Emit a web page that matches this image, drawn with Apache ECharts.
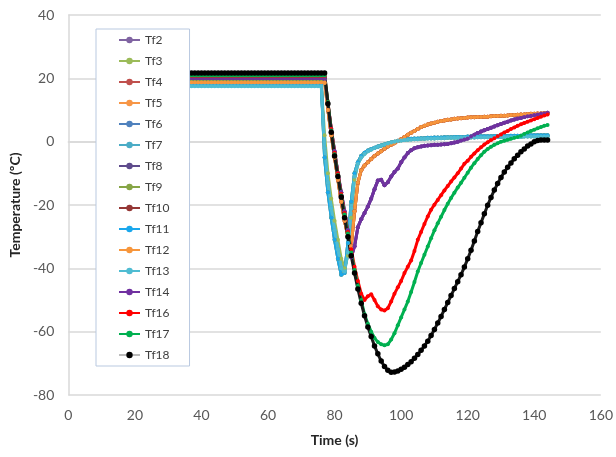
<!DOCTYPE html>
<html>
<head>
<meta charset="utf-8">
<script src="https://cdn.jsdelivr.net/npm/echarts@6/dist/echarts.min.js"></script>
<style>
html, body { margin: 0; padding: 0; background: #fff; }
#chart { width: 616px; height: 457px; }
</style>
</head>
<body>
<div id="chart"></div>
<script>
// sample times (s)
const time = [
  36,37,38,39,40,41,42,43,44,45,46,47,48,49,50,51,52,53,54,55,
  56,57,58,59,60,61,62,63,64,65,66,67,68,69,70,71,72,73,74,75,76,
  77,78,79,80,81,82,83,84,85,86,87,88,89,90,91,92,93,94,95,96,
  97,98,99,100,101,102,103,104,105,106,107,108,109,110,111,112,113,114,115,116,
  117,118,119,120,121,122,123,124,125,126,127,128,129,130,131,132,133,134,135,136,
  137,138,139,140,141,142,143,144
];

// temperatures (ºC), one value per sample time
const tf2 = [
  19.7,19.7,19.7,19.7,19.7,19.7,19.7,19.7,19.7,19.7,19.7,19.7,19.7,19.7,19.7,19.7,19.7,19.7,19.7,19.7,
  19.7,19.7,19.7,19.7,19.7,19.7,19.7,19.7,19.7,19.7,19.7,19.7,19.7,19.7,19.7,19.7,19.7,19.7,19.7,19.7,19.7,
  19.7,12,4,-3,-10,-16,-22,-28,-36.5,-33,-27,-24.5,-22.5,-20.5,-18,-15,-12.3,-12,-13.8,-12.8,
  -11,-9.6,-8.5,-6.5,-5,-3.6,-2.7,-2.1,-1.8,-1.5,-1.3,-1.2,-1.1,-1,-1,-0.9,-0.8,-0.7,-0.5,-0.3,
  0,0.4,0.7,1,1.6,2.2,2.7,3.2,3.6,4,4.4,4.8,5.2,5.6,6,6.3,6.7,7,7.3,7.5,
  7.8,8,8.2,8.4,8.6,8.8,8.9,9.1
];
const tf3 = [
  18.5,18.5,18.5,18.5,18.5,18.5,18.5,18.5,18.5,18.5,18.5,18.5,18.5,18.5,18.5,18.5,18.5,18.5,18.5,18.5,
  18.5,18.5,18.5,18.5,18.5,18.5,18.5,18.5,18.5,18.5,18.5,18.5,18.5,18.5,18.5,18.5,18.5,18.5,18.5,18.5,18.5,
  2,-10,-18,-25,-31,-37,-40,-36,-24,-12,-7,-5,-3.8,-3,-2.5,-2,-1.6,-1.2,-0.9,-0.6,
  -0.3,0,0.2,0.4,0.5,0.6,0.7,0.8,0.8,0.9,0.9,1,1,1,1.1,1.1,1.1,1.2,1.2,1.2,
  1.2,1.3,1.3,1.3,1.3,1.3,1.4,1.4,1.4,1.4,1.4,1.4,1.5,1.5,1.5,1.5,1.5,1.5,1.5,1.5,
  1.6,1.6,1.6,1.6,1.6,1.6,1.6,1.6
];
const tf4 = [
  20.5,20.5,20.5,20.5,20.5,20.5,20.5,20.5,20.5,20.5,20.5,20.5,20.5,20.5,20.5,20.5,20.5,20.5,20.5,20.5,
  20.5,20.5,20.5,20.5,20.5,20.5,20.5,20.5,20.5,20.5,20.5,20.5,20.5,20.5,20.5,20.5,20.5,20.5,20.5,20.5,20.5,
  20.5,10,2,-5,-12,-19,-25,-30,-33,-22,-13,-9,-7.5,-6.5,-5.5,-4.5,-3.7,-3,-2.2,-1.5,
  -1,-0.5,0.2,0.8,1.5,2.2,2.8,3.4,4,4.6,5,5.4,5.7,6,6.3,6.5,6.7,6.9,7,7.2,
  7.3,7.4,7.5,7.6,7.7,7.7,7.8,7.8,7.9,7.9,8,8.1,8.1,8.2,8.2,8.3,8.4,8.4,8.5,8.6,
  8.6,8.7,8.8,8.8,8.9,8.9,9,9
];
const tf5 = [
  18.5,18.5,18.5,18.5,18.5,18.5,18.5,18.5,18.5,18.5,18.5,18.5,18.5,18.5,18.5,18.5,18.5,18.5,18.5,18.5,
  18.5,18.5,18.5,18.5,18.5,18.5,18.5,18.5,18.5,18.5,18.5,18.5,18.5,18.5,18.5,18.5,18.5,18.5,18.5,18.5,18.5,
  18.5,10,2,-5,-12,-19,-25,-30,-33,-22,-13,-9,-7.5,-6.5,-5.5,-4.5,-3.7,-3,-2.2,-1.5,
  -1,-0.5,0.2,0.8,1.5,2.2,2.8,3.4,4,4.6,5,5.4,5.7,6,6.3,6.5,6.7,6.9,7,7.2,
  7.3,7.4,7.5,7.6,7.7,7.7,7.8,7.8,7.9,7.9,8,8.1,8.1,8.2,8.2,8.3,8.4,8.4,8.5,8.6,
  8.6,8.7,8.8,8.8,8.9,8.9,9,9
];
const tf6 = [
  19.2,19.2,19.2,19.2,19.2,19.2,19.2,19.2,19.2,19.2,19.2,19.2,19.2,19.2,19.2,19.2,19.2,19.2,19.2,19.2,
  19.2,19.2,19.2,19.2,19.2,19.2,19.2,19.2,19.2,19.2,19.2,19.2,19.2,19.2,19.2,19.2,19.2,19.2,19.2,19.2,19.2,
  -5,-16,-24,-31,-37,-42,-41.5,-32,-19,-10,-6.5,-4.5,-3.5,-2.8,-2.3,-1.9,-1.5,-1.2,-0.9,-0.6,
  -0.3,0,0.3,0.5,0.7,0.8,0.9,1,1,1.1,1.1,1.2,1.2,1.3,1.3,1.3,1.4,1.4,1.4,1.5,
  1.5,1.5,1.5,1.6,1.6,1.6,1.6,1.7,1.7,1.7,1.7,1.8,1.8,1.8,1.8,1.8,1.9,1.9,1.9,1.9,
  1.9,2,2,2,2,2,2,2
];
const tf7 = [
  18,18,18,18,18,18,18,18,18,18,18,18,18,18,18,18,18,18,18,18,
  18,18,18,18,18,18,18,18,18,18,18,18,18,18,18,18,18,18,18,18,18,
  -2,-13,-21,-28,-34,-40,-41,-35,-21,-11,-7,-5,-3.8,-3,-2.5,-2,-1.6,-1.2,-0.9,-0.6,
  -0.3,0,0.2,0.4,0.5,0.6,0.7,0.8,0.8,0.9,0.9,1,1,1,1.1,1.1,1.1,1.2,1.2,1.2,
  1.2,1.3,1.3,1.3,1.3,1.3,1.4,1.4,1.4,1.4,1.4,1.4,1.5,1.5,1.5,1.5,1.5,1.5,1.5,1.5,
  1.6,1.6,1.6,1.6,1.6,1.6,1.6,1.6
];
const tf8 = [
  19.5,19.5,19.5,19.5,19.5,19.5,19.5,19.5,19.5,19.5,19.5,19.5,19.5,19.5,19.5,19.5,19.5,19.5,19.5,19.5,
  19.5,19.5,19.5,19.5,19.5,19.5,19.5,19.5,19.5,19.5,19.5,19.5,19.5,19.5,19.5,19.5,19.5,19.5,19.5,19.5,19.5,
  19.5,12,4,-3,-10,-16,-22,-28,-36.5,-33,-27,-24.5,-22.5,-20.5,-18,-15,-12.3,-12,-13.8,-12.8,
  -11,-9.6,-8.5,-6.5,-5,-3.6,-2.7,-2.1,-1.8,-1.5,-1.3,-1.2,-1.1,-1,-1,-0.9,-0.8,-0.7,-0.5,-0.3,
  0,0.4,0.7,1,1.6,2.2,2.7,3.2,3.6,4,4.4,4.8,5.2,5.6,6,6.3,6.7,7,7.3,7.5,
  7.8,8,8.2,8.4,8.6,8.8,8.9,9.1
];
const tf9 = [
  18.9,18.9,18.9,18.9,18.9,18.9,18.9,18.9,18.9,18.9,18.9,18.9,18.9,18.9,18.9,18.9,18.9,18.9,18.9,18.9,
  18.9,18.9,18.9,18.9,18.9,18.9,18.9,18.9,18.9,18.9,18.9,18.9,18.9,18.9,18.9,18.9,18.9,18.9,18.9,18.9,18.9,
  -5,-16,-24,-31,-37,-42,-41.5,-32,-19,-10,-6.5,-4.5,-3.5,-2.8,-2.3,-1.9,-1.5,-1.2,-0.9,-0.6,
  -0.3,0,0.3,0.5,0.7,0.8,0.9,1,1,1.1,1.1,1.2,1.2,1.3,1.3,1.3,1.4,1.4,1.4,1.5,
  1.5,1.5,1.5,1.6,1.6,1.6,1.6,1.7,1.7,1.7,1.7,1.8,1.8,1.8,1.8,1.8,1.9,1.9,1.9,1.9,
  1.9,2,2,2,2,2,2,2
];
const tf10 = [
  20.3,20.3,20.3,20.3,20.3,20.3,20.3,20.3,20.3,20.3,20.3,20.3,20.3,20.3,20.3,20.3,20.3,20.3,20.3,20.3,
  20.3,20.3,20.3,20.3,20.3,20.3,20.3,20.3,20.3,20.3,20.3,20.3,20.3,20.3,20.3,20.3,20.3,20.3,20.3,20.3,20.3,
  20.3,10,2,-5,-12,-19,-25,-30,-33,-22,-13,-9,-7.5,-6.5,-5.5,-4.5,-3.7,-3,-2.2,-1.5,
  -1,-0.5,0.2,0.8,1.5,2.2,2.8,3.4,4,4.6,5,5.4,5.7,6,6.3,6.5,6.7,6.9,7,7.2,
  7.3,7.4,7.5,7.6,7.7,7.7,7.8,7.8,7.9,7.9,8,8.1,8.1,8.2,8.2,8.3,8.4,8.4,8.5,8.6,
  8.6,8.7,8.8,8.8,8.9,8.9,9,9
];
const tf11 = [
  17.9,17.9,17.9,17.9,17.9,17.9,17.9,17.9,17.9,17.9,17.9,17.9,17.9,17.9,17.9,17.9,17.9,17.9,17.9,17.9,
  17.9,17.9,17.9,17.9,17.9,17.9,17.9,17.9,17.9,17.9,17.9,17.9,17.9,17.9,17.9,17.9,17.9,17.9,17.9,17.9,17.9,
  -5,-16,-24,-31,-37,-42,-41.5,-32,-19,-10,-6.5,-4.5,-3.5,-2.8,-2.3,-1.9,-1.5,-1.2,-0.9,-0.6,
  -0.3,0,0.3,0.5,0.7,0.8,0.9,1,1,1.1,1.1,1.2,1.2,1.3,1.3,1.3,1.4,1.4,1.4,1.5,
  1.5,1.5,1.5,1.6,1.6,1.6,1.6,1.7,1.7,1.7,1.7,1.8,1.8,1.8,1.8,1.8,1.9,1.9,1.9,1.9,
  1.9,2,2,2,2,2,2,2
];
const tf12 = [
  18.7,18.7,18.7,18.7,18.7,18.7,18.7,18.7,18.7,18.7,18.7,18.7,18.7,18.7,18.7,18.7,18.7,18.7,18.7,18.7,
  18.7,18.7,18.7,18.7,18.7,18.7,18.7,18.7,18.7,18.7,18.7,18.7,18.7,18.7,18.7,18.7,18.7,18.7,18.7,18.7,18.7,
  18.7,10,2,-5,-12,-19,-25,-30,-33,-22,-13,-9,-7.5,-6.5,-5.5,-4.5,-3.7,-3,-2.2,-1.5,
  -1,-0.5,0.2,0.8,1.5,2.2,2.8,3.4,4,4.6,5,5.4,5.7,6,6.3,6.5,6.7,6.9,7,7.2,
  7.3,7.4,7.5,7.6,7.7,7.7,7.8,7.8,7.9,7.9,8,8.1,8.1,8.2,8.2,8.3,8.4,8.4,8.5,8.6,
  8.6,8.7,8.8,8.8,8.9,8.9,9,9
];
const tf13 = [
  17.5,17.5,17.5,17.5,17.5,17.5,17.5,17.5,17.5,17.5,17.5,17.5,17.5,17.5,17.5,17.5,17.5,17.5,17.5,17.5,
  17.5,17.5,17.5,17.5,17.5,17.5,17.5,17.5,17.5,17.5,17.5,17.5,17.5,17.5,17.5,17.5,17.5,17.5,17.5,17.5,17.5,
  -2,-13,-21,-28,-34,-40,-41,-35,-21,-11,-7,-5,-3.8,-3,-2.5,-2,-1.6,-1.2,-0.9,-0.6,
  -0.3,0,0.2,0.4,0.5,0.6,0.7,0.8,0.8,0.9,0.9,1,1,1,1.1,1.1,1.1,1.2,1.2,1.2,
  1.2,1.3,1.3,1.3,1.3,1.3,1.4,1.4,1.4,1.4,1.4,1.4,1.5,1.5,1.5,1.5,1.5,1.5,1.5,1.5,
  1.6,1.6,1.6,1.6,1.6,1.6,1.6,1.6
];
const tf14 = [
  20.1,20.1,20.1,20.1,20.1,20.1,20.1,20.1,20.1,20.1,20.1,20.1,20.1,20.1,20.1,20.1,20.1,20.1,20.1,20.1,
  20.1,20.1,20.1,20.1,20.1,20.1,20.1,20.1,20.1,20.1,20.1,20.1,20.1,20.1,20.1,20.1,20.1,20.1,20.1,20.1,20.1,
  20.1,12,4,-3,-10,-16,-22,-28,-36.5,-33,-27,-24.5,-22.5,-20.5,-18,-15,-12.3,-12,-13.8,-12.8,
  -11,-9.6,-8.5,-6.5,-5,-3.6,-2.7,-2.1,-1.8,-1.5,-1.3,-1.2,-1.1,-1,-1,-0.9,-0.8,-0.7,-0.5,-0.3,
  0,0.4,0.7,1,1.6,2.2,2.7,3.2,3.6,4,4.4,4.8,5.2,5.6,6,6.3,6.7,7,7.3,7.5,
  7.8,8,8.2,8.4,8.6,8.8,8.9,9.1
];
const tf16 = [
  20.7,20.7,20.7,20.7,20.7,20.7,20.7,20.7,20.7,20.7,20.7,20.7,20.7,20.7,20.7,20.7,20.7,20.7,20.7,20.7,
  20.7,20.7,20.7,20.7,20.7,20.7,20.7,20.7,20.7,20.7,20.7,20.7,20.7,20.7,20.7,20.7,20.7,20.7,20.7,20.7,20.7,
  20.7,12.5,4,-3.5,-10,-16.5,-22.5,-28.5,-34,-39.5,-44,-48,-50,-48.8,-48.2,-50,-52,-53,-53.3,-52.6,
  -50.5,-48,-46,-44,-41.5,-39.5,-37.5,-34.5,-31,-28.5,-26,-23.6,-21.5,-19.9,-18.4,-16.9,-15.4,-14,-12.6,-11.3,
  -10,-8.5,-7,-6,-4.8,-3.7,-2.7,-1.8,-0.9,-0.2,0.5,1.1,1.7,2.3,2.9,3.4,4,4.5,5,5.5,
  5.9,6.3,6.7,7.1,7.5,7.9,8.3,8.6
];
const tf17 = [
  20.9,20.9,20.9,20.9,20.9,20.9,20.9,20.9,20.9,20.9,20.9,20.9,20.9,20.9,20.9,20.9,20.9,20.9,20.9,20.9,
  20.9,20.9,20.9,20.9,20.9,20.9,20.9,20.9,20.9,20.9,20.9,20.9,20.9,20.9,20.9,20.9,20.9,20.9,20.9,20.9,20.9,
  20.9,12.5,3.5,-4,-10.5,-17,-23,-29,-35,-40.5,-45.5,-50,-54.5,-57.5,-60,-62,-63.3,-64,-64.3,-64,
  -62.5,-60.5,-58,-55.5,-53,-50.5,-47.5,-44.3,-41,-38.3,-35.7,-33.1,-30.5,-28,-25.8,-23.7,-21.6,-19.6,-17.8,-16.1,
  -14.5,-13,-11.4,-9.8,-8.2,-6.8,-5.5,-4.3,-3.2,-2.3,-1.6,-1,-0.5,0,0.3,0.6,0.9,1.2,1.5,1.9,
  2.4,2.9,3.4,3.8,4.2,4.6,5,5.3
];
const tf18 = [
  21.7,21.7,21.7,21.7,21.7,21.7,21.7,21.7,21.7,21.7,21.7,21.7,21.7,21.7,21.7,21.7,21.7,21.7,21.7,21.7,
  21.7,21.7,21.7,21.7,21.7,21.7,21.7,21.7,21.7,21.7,21.7,21.7,21.7,21.7,21.7,21.7,21.7,21.7,21.7,21.7,21.7,
  21.7,12,3,-4.5,-11,-17.5,-24,-30,-36,-41.5,-46.5,-51,-55,-58.5,-61.5,-64.5,-67,-69.3,-71,-72.2,
  -72.8,-72.7,-72.4,-71.9,-71.2,-70.4,-69.5,-68.4,-67.2,-65.9,-64.5,-63,-61.2,-59.3,-57.3,-55.2,-53,-50.8,-48.6,-46.4,
  -44.2,-42,-39.6,-37,-34.3,-31.4,-28.4,-25.6,-22.8,-20.1,-17.6,-15.3,-13.2,-11.3,-9.6,-8.1,-6.7,-5.4,-4.3,-3.2,
  -2.3,-1.4,-0.7,0,0.4,0.5,0.5,0.5
];

const names = ['Tf2','Tf3','Tf4','Tf5','Tf6','Tf7','Tf8','Tf9','Tf10','Tf11','Tf12','Tf13','Tf14','Tf16','Tf17','Tf18'];
const values = [tf2, tf3, tf4, tf5, tf6, tf7, tf8, tf9, tf10, tf11, tf12, tf13, tf14, tf16, tf17, tf18];
const colors = ['#8064a2','#9bbb59','#c0504d','#f79646','#4f81bd','#4bacc6','#5e4b8c','#86a545',
  '#953735','#1aa7ec','#f7963c','#4fbcd2','#7030a0','#ff0000','#00b050','#000000'];

let myChart = echarts.init(document.getElementById('chart'));

let series = names.map(function (name, i) {
  let black = name === 'Tf18';
  return {
    name: name,
    type: 'line',
    data: time.map(function (t, k) { return [t, values[i][k]]; }),
    symbol: 'circle',
    symbolSize: black ? 5.5 : 4,
    showSymbol: true,
    // the black trace reads as a chain of dots, so its line is drawn dark too
    lineStyle: { width: 3, color: black ? '#1a1a1a' : colors[i] },
    itemStyle: { color: colors[i] },
    emphasis: { disabled: true },
    animation: false
  };
});

// legend entries; Tf18 keeps its grey line with a black dot
let legendData = names.map(function (name) {
  if (name === 'Tf18') {
    return { name: name, lineStyle: { color: '#a6a6a6', width: 1.5 } };
  }
  return { name: name, lineStyle: { width: 2 } };
});

myChart.setOption({
  animation: false,
  textStyle: { fontFamily: 'Lato' },
  grid: { left: 67, right: 15, top: 15, bottom: 62 },
  legend: {
    orient: 'vertical',
    left: 96,
    top: 29,
    data: legendData,
    backgroundColor: '#fff',
    borderColor: '#b9c9e0',
    borderWidth: 1,
    padding: [4, 20, 4, 22],
    itemWidth: 21,
    itemHeight: 8,
    itemGap: 7,
    textStyle: { fontSize: 12, color: '#404040', lineHeight: 14, fontFamily: 'Lato' }
  },
  xAxis: {
    type: 'value',
    min: 0,
    max: 160,
    interval: 20,
    name: 'Time (s)',
    nameLocation: 'middle',
    nameGap: 38,
    nameTextStyle: { fontSize: 14, fontWeight: 'bold', color: '#262626', fontFamily: 'Lato' },
    axisLine: { lineStyle: { color: '#d9d9d9', width: 1.5 } },
    axisTick: { show: false },
    splitLine: { show: false },
    axisLabel: { color: '#595959', fontSize: 14, margin: 13, fontFamily: 'Lato' }
  },
  yAxis: {
    type: 'value',
    min: -80,
    max: 40,
    interval: 20,
    name: 'Temperature (ºC)',
    nameLocation: 'middle',
    nameGap: 44,
    nameTextStyle: { fontSize: 14, fontWeight: 'bold', color: '#262626', fontFamily: 'Lato' },
    axisLine: { show: true, lineStyle: { color: '#d9d9d9', width: 1.5 } },
    axisTick: { show: false },
    splitLine: { lineStyle: { color: '#d9d9d9', width: 1.5 } },
    axisLabel: { color: '#595959', fontSize: 14, margin: 14, fontFamily: 'Lato' }
  },
  series: series
});
</script>
</body>
</html>
